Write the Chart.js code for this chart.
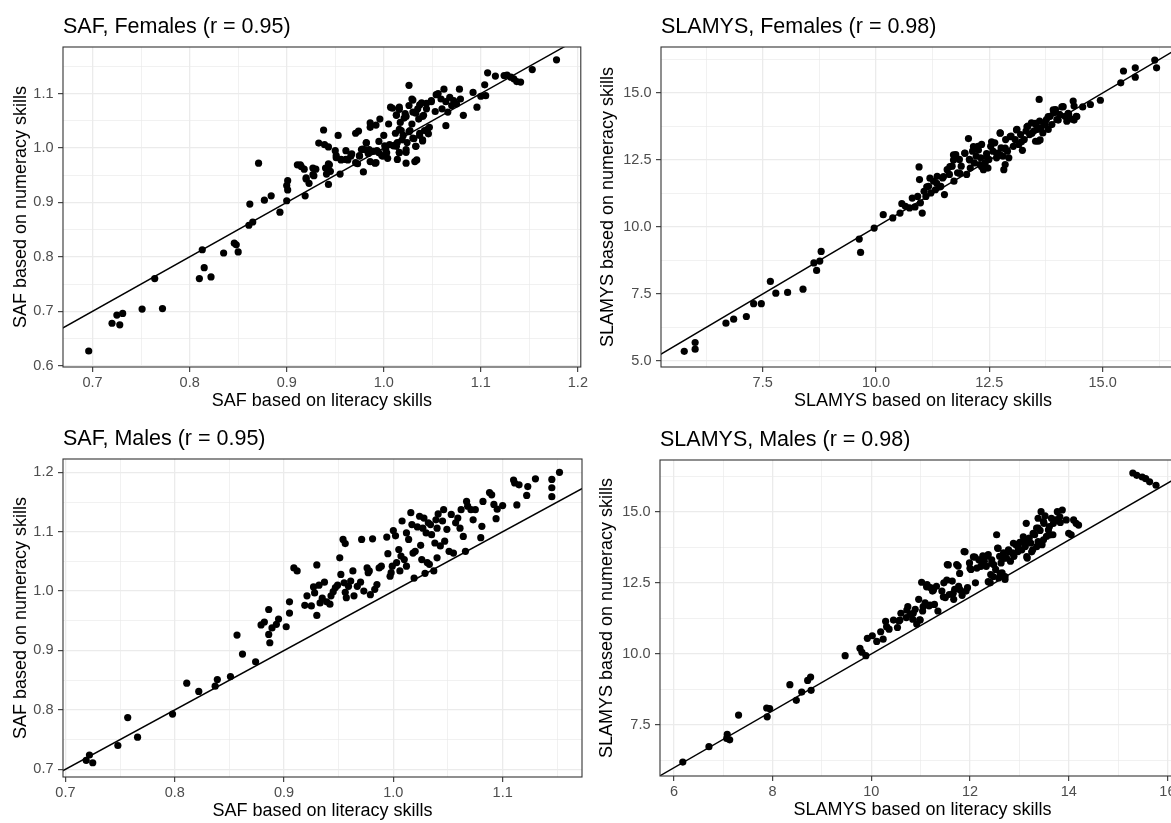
<!DOCTYPE html>
<html>
<head>
<meta charset="utf-8">
<script src="https://cdn.jsdelivr.net/npm/chart.js@4.4.1/dist/chart.umd.min.js"></script>
<style>
  html, body { margin: 0; padding: 0; background: #fff; }
  body { width: 1171px; height: 823px; overflow: hidden; position: relative; }
  canvas { position: absolute; }
</style>
</head>
<body>
<canvas id="safF" width="590" height="415" style="left:0;top:0"></canvas>
<canvas id="slamysF" width="600" height="415" style="left:590px;top:0"></canvas>
<canvas id="safM" width="590" height="413" style="left:0;top:410px"></canvas>
<canvas id="slamysM" width="600" height="413" style="left:590px;top:410px"></canvas>
<script>
// SAF, females: literacy-based (x) vs numeracy-based (y)
const safFemLit = [
  0.696,0.720,0.725,0.728,0.731,0.751,0.772,0.764,0.810,0.813,
  0.815,0.822,0.835,0.846,0.848,0.850,0.862,0.861,0.865,0.871,
  0.877,0.884,0.893,0.900,0.900,0.901,0.901,0.914,0.918,0.920,
  0.919,0.923,0.928,0.930,0.933,0.938,0.939,0.943,0.941,0.943,
  0.943,0.945,0.950,0.951,0.953,0.955,0.956,0.961,0.963,0.967,
  0.971,0.974,0.973,0.975,0.978,0.979,0.982,0.984,0.986,0.986,
  0.986,0.992,0.991,0.993,0.996,0.998,1.000,1.001,1.003,1.004,
  1.005,1.007,1.010,1.012,1.013,1.014,1.016,1.016,1.017,1.018,
  1.020,1.021,1.022,1.023,1.023,1.024,1.026,1.026,1.027,1.029,
  1.029,1.030,1.031,1.032,1.033,1.034,1.035,1.036,1.037,1.039,
  1.040,1.041,1.042,1.044,1.046,1.047,1.049,1.053,1.056,1.059,
  1.060,1.062,1.064,1.064,1.066,1.068,1.070,1.072,1.075,1.078,
  1.079,1.082,1.092,1.096,1.100,1.104,1.105,1.107,1.115,1.124,
  1.127,1.131,1.134,1.137,1.141,1.153,1.178,
  1.009,1.016,1.030,1.037,1.044,1.049,1.054,1.013,1.023,1.033,
  1.040,1.016,1.026,1.037,1.045,1.019,1.030,1.040,1.013,1.023,
  1.033,1.002,0.995,0.999,0.990,0.985,0.992,0.980,0.975,0.971,
  0.966,0.961,0.956,0.951,0.982,0.977,0.989,0.995,1.006,1.014,
  1.016,0.944,0.940,0.927,0.920,0.915,0.911,0.927
];
const safFemNum = [
  0.627,0.678,0.693,0.675,0.696,0.704,0.705,0.760,0.760,0.813,
  0.780,0.763,0.807,0.825,0.822,0.809,0.897,0.858,0.864,0.972,
  0.904,0.912,0.882,0.903,0.931,0.923,0.940,0.969,0.961,0.943,
  0.912,0.935,0.949,0.961,1.009,1.033,1.006,1.002,0.952,0.933,
  0.971,0.957,0.995,0.986,1.023,0.952,0.978,0.995,0.978,0.989,
  1.027,1.031,0.971,0.986,0.998,0.956,1.010,0.990,1.046,1.038,
  0.975,1.042,0.972,0.995,1.053,0.986,1.023,1.004,0.991,0.981,
  1.044,1.075,1.004,1.027,1.060,1.010,1.075,0.992,1.047,1.032,
  1.023,1.055,1.063,0.972,0.992,1.010,1.115,1.078,1.032,1.090,
  1.044,1.066,1.017,0.975,1.003,0.978,1.072,1.053,1.023,1.083,
  1.013,1.060,1.032,1.072,1.026,1.038,1.087,1.067,1.100,1.090,
  1.072,1.108,1.041,1.085,1.066,1.093,1.078,1.087,1.081,1.108,
  1.090,1.060,1.102,1.075,1.095,1.116,1.096,1.138,1.132,1.133,
  1.134,1.130,1.127,1.122,1.121,1.144,1.162,
  1.073,1.071,1.088,1.079,1.082,1.085,1.098,1.061,1.058,1.064,
  1.058,1.034,1.030,1.027,1.034,1.015,1.018,1.015,1.003,0.997,
  1.003,0.997,0.991,0.985,0.994,0.997,0.973,0.997,0.985,0.973,
  0.985,0.979,0.979,0.982,1.009,0.997,0.994,1.012,1.006,0.979,
  0.991,0.969,0.963,0.963,0.945,0.966,0.969,0.951
];

// SLAMYS, females
const slamysFemLit = [
  5.77,6.01,6.01,6.69,6.86,7.14,7.30,7.47,7.67,7.79,
  8.05,8.39,8.63,8.69,8.76,8.79,9.63,9.66,9.96,10.16,
  10.37,10.53,10.57,10.65,10.74,10.80,10.86,10.92,10.95,10.96,
  10.98,11.02,11.06,11.10,11.16,11.21,11.27,11.31,11.35,11.43,
  11.47,11.51,11.57,11.62,11.68,11.72,11.76,11.80,11.84,11.88,
  11.96,12.00,12.04,12.06,12.08,12.13,12.17,12.21,12.25,12.29,
  12.31,12.33,12.37,12.41,12.44,12.47,12.49,12.53,12.58,12.62,
  12.66,12.70,12.74,12.76,12.80,12.82,12.85,12.86,12.90,12.93,
  12.98,13.03,13.07,13.11,13.15,13.19,13.23,13.27,13.31,13.35,
  13.39,13.43,13.48,13.52,13.52,13.56,13.58,13.60,13.61,13.64,
  13.68,13.72,13.76,13.80,13.84,13.88,13.92,13.96,13.99,14.05,
  14.10,14.17,14.21,14.25,14.32,14.35,14.37,14.42,14.56,14.73,
  14.95,15.40,15.46,15.72,15.72,16.15,16.19,
  11.19,11.34,11.12,11.49,11.63,11.71,11.85,11.96,12.07,12.15,
  12.26,12.33,12.44,12.55,12.66,12.74,12.85,12.96,13.10,13.21,
  13.33,13.44,13.51,13.62,13.73,13.80,13.91,14.02,14.13,14.24,
  14.37,14.43,11.71,11.41
];
const slamysFemNum = [
  5.36,5.69,5.44,6.41,6.56,6.66,7.14,7.14,7.97,7.53,
  7.56,7.68,8.66,8.38,8.73,9.09,9.55,9.05,9.96,10.46,
  10.34,10.52,10.87,10.77,10.71,11.08,10.75,11.14,12.24,11.77,
  10.90,10.52,11.33,11.14,11.52,11.27,11.71,11.39,11.89,11.52,
  11.83,11.21,12.14,11.96,12.27,11.71,12.70,12.02,12.52,12.27,
  12.76,11.96,13.30,12.52,12.20,12.83,12.39,12.64,13.01,12.33,
  12.58,13.08,12.14,12.39,12.74,12.20,12.52,13.01,12.83,13.14,
  12.58,12.76,13.51,12.95,12.64,12.14,12.33,13.26,12.83,12.58,
  13.39,13.01,13.26,13.64,13.08,13.45,12.86,13.26,13.58,13.76,
  13.45,13.89,13.58,13.82,13.20,13.64,13.20,14.76,13.95,13.70,
  13.51,13.82,14.01,13.64,14.13,13.82,14.26,14.38,14.01,14.20,
  14.48,14.13,13.95,14.20,14.03,14.70,14.51,14.13,14.48,14.57,
  14.73,15.38,15.82,15.94,15.59,16.23,15.94,
  11.82,11.63,11.50,11.88,12.25,12.69,12.00,12.75,12.50,13.00,
  12.87,12.25,12.62,13.18,12.75,13.50,12.94,13.37,13.62,13.18,
  13.74,13.50,13.87,13.25,13.87,14.12,14.37,13.99,14.49,14.24,
  13.99,14.12,12.50,11.50
];

// SAF, males
const safMaleLit = [
  0.719,0.722,0.725,0.748,0.757,0.766,0.798,0.811,0.822,0.837,
  0.839,0.851,0.857,0.862,0.874,0.879,0.882,0.886,0.886,0.887,
  0.889,0.893,0.895,0.902,0.905,0.905,0.909,0.912,0.919,0.921,
  0.925,0.927,0.928,0.930,0.930,0.932,0.933,0.935,0.937,0.939,
  0.942,0.943,0.945,0.947,0.949,0.951,0.952,0.954,0.956,0.955,
  0.956,0.957,0.959,0.961,0.963,0.964,0.967,0.970,0.971,0.973,
  0.976,0.977,0.978,0.979,0.981,0.983,0.985,0.987,0.989,0.994,
  0.995,0.997,0.998,0.999,1.000,1.002,1.003,1.005,1.006,1.007,
  1.008,1.010,1.012,1.012,1.014,1.016,1.017,1.018,1.019,1.020,
  1.022,1.024,1.025,1.026,1.027,1.028,1.029,1.030,1.031,1.032,
  1.033,1.034,1.035,1.037,1.038,1.039,1.040,1.040,1.041,1.043,
  1.045,1.046,1.047,1.049,1.051,1.053,1.055,1.057,1.059,1.061,
  1.062,1.064,1.066,1.067,1.068,1.071,1.073,1.075,1.081,1.080,
  1.082,1.088,1.090,1.092,1.094,1.095,1.100,1.110,1.111,1.115,
  1.113,1.122,1.123,1.130,1.145,1.145,1.145,1.152
];
const safMaleNum = [
  0.715,0.724,0.711,0.740,0.787,0.754,0.793,0.845,0.831,0.840,
  0.851,0.856,0.926,0.894,0.881,0.943,0.948,0.969,0.927,0.913,
  0.938,0.944,0.953,0.940,0.982,0.963,1.039,1.034,0.976,0.992,
  0.975,1.007,0.997,1.044,0.959,1.010,0.980,0.988,1.015,0.982,
  0.978,0.992,0.999,1.006,1.010,1.056,1.028,1.087,1.080,1.014,
  0.998,0.989,1.008,1.017,1.034,0.992,1.008,1.015,1.087,1.000,
  1.039,1.031,1.034,0.994,1.088,1.003,1.011,1.039,1.042,1.091,
  1.063,1.025,1.031,1.042,1.102,1.093,1.048,1.070,1.034,1.059,
  1.118,1.053,1.098,1.042,1.087,1.132,1.112,1.064,1.022,1.067,
  1.108,1.126,1.077,1.053,1.106,1.123,1.030,1.098,1.048,1.115,
  1.045,1.112,1.095,1.034,1.081,1.120,1.106,1.056,1.130,1.076,
  1.118,1.137,1.084,1.104,1.067,1.129,1.064,1.115,1.123,1.106,
  1.137,1.092,1.067,1.151,1.143,1.137,1.120,1.137,1.109,1.090,
  1.151,1.166,1.162,1.146,1.122,1.138,1.144,1.187,1.182,1.179,
  1.145,1.161,1.176,1.189,1.188,1.174,1.159,1.200
];

// SLAMYS, males
const slamysMaleLit = [
  6.18,6.71,7.08,7.07,7.13,7.31,7.88,7.89,7.94,8.35,
  8.48,8.59,8.71,8.77,8.78,9.47,9.77,9.81,9.89,9.92,
  10.02,10.11,10.19,10.24,10.29,10.36,10.53,10.56,10.60,10.71,
  10.74,10.79,10.84,10.89,10.92,10.96,10.98,11.02,11.04,11.09,
  11.13,11.17,11.20,11.24,11.28,11.32,11.35,11.43,11.47,11.50,
  11.54,11.58,11.64,11.67,11.69,11.73,11.77,11.79,11.84,11.88,
  11.92,11.95,11.99,12.02,12.07,12.11,12.14,12.18,12.22,12.26,
  12.29,12.33,12.37,12.41,12.42,12.44,12.48,12.52,12.54,12.56,
  12.58,12.60,12.63,12.65,12.68,12.71,12.74,12.78,12.82,12.86,
  12.89,12.93,12.97,13.01,13.05,13.08,13.12,13.14,13.16,13.20,
  13.23,13.27,13.31,13.35,13.38,13.38,13.42,13.44,13.46,13.50,
  13.52,13.55,13.61,13.65,13.68,13.74,13.77,13.83,13.87,13.95,
  14.00,14.05,14.10,14.15,14.20,15.30,15.38,15.49,15.56,15.64,
  15.77,
  11.56,11.76,12.00,12.10,12.20,12.34,12.44,12.57,12.68,12.78,
  12.88,12.98,13.08,13.18,13.28,13.38,13.49,13.59,13.69,13.82,
  13.15,13.25,13.35,13.49,13.62,12.47,12.61,12.71,12.37,11.53,
  11.26,11.12,11.66,11.80,11.46,10.85,10.72,10.58,10.99,11.05,
  11.19,10.45,10.31,11.90
];
const slamysMaleNum = [
  6.20,6.74,7.17,7.03,6.98,7.85,8.10,7.79,8.08,8.92,
  8.37,8.66,9.07,9.19,8.72,9.94,10.20,10.06,9.94,10.55,
  10.64,10.44,10.78,10.52,11.15,10.87,10.93,11.16,11.43,11.28,
  11.66,11.40,11.22,11.57,11.05,11.92,11.20,12.52,11.51,11.80,
  12.44,11.69,12.33,12.21,11.74,12.38,11.51,12.21,12.50,11.98,
  13.14,12.09,12.56,11.92,12.27,13.14,12.38,12.83,12.06,13.60,
  12.21,12.33,13.20,12.97,13.41,12.50,13.02,13.31,13.08,13.45,
  13.26,13.08,13.49,12.50,12.79,13.31,13.14,12.97,14.19,13.72,
  12.67,13.43,13.20,12.85,13.55,12.62,13.37,13.66,13.26,13.55,
  13.43,13.84,13.60,13.92,13.66,13.95,13.78,14.59,13.37,14.07,
  13.90,13.66,14.19,14.42,14.77,13.95,14.34,15.00,13.84,14.59,
  14.85,14.13,14.48,14.77,14.19,14.71,15.00,14.62,15.06,14.71,
  14.24,14.19,14.71,14.59,14.53,16.36,16.28,16.22,16.16,16.05,
  15.93,
  13.13,13.09,13.01,13.40,13.30,13.44,13.19,13.71,13.36,13.59,
  13.89,13.71,14.12,13.95,14.24,14.42,14.65,14.36,14.59,14.82,
  13.42,13.59,13.77,14.01,14.18,12.72,12.83,12.72,12.54,12.60,
  12.25,12.36,12.13,12.25,12.01,11.43,11.54,11.19,11.19,11.66,
  11.72,11.19,10.96,13.59
];

// axis labels (major breaks)
const safFemXTicks = ['0.7', '0.8', '0.9', '1.0', '1.1', '1.2'];
const safFemYTicks = ['0.6', '0.7', '0.8', '0.9', '1.0', '1.1'];
const slamysFemXTicks = ['7.5', '10.0', '12.5', '15.0'];
const slamysFemYTicks = ['5.0', '7.5', '10.0', '12.5', '15.0'];
const safMaleXTicks = ['0.7', '0.8', '0.9', '1.0', '1.1'];
const safMaleYTicks = ['0.7', '0.8', '0.9', '1.0', '1.1', '1.2'];
const slamysMaleXTicks = ['6', '8', '10', '12', '14', '16'];
const slamysMaleYTicks = ['7.5', '10.0', '12.5', '15.0'];

const FONT = "'Liberation Sans', Arial, sans-serif";
Chart.defaults.font.family = FONT;

// major breaks plus the minor lines half-way between them
function gridValues(labels, min, max) {
  const major = labels.map(Number);
  const half = (major[1] - major[0]) / 2;
  const vals = new Set();
  major.forEach(v => {
    [v - half, v, v + half].forEach(w => vals.add(+w.toFixed(4)));
  });
  return [...vals].filter(v => v >= min && v <= max).sort((a, b) => a - b);
}

function axis(labels, range, title, size, titleGap, horizontal) {
  const major = labels.map(Number);
  const labelOf = v => {
    const i = major.findIndex(m => Math.abs(m - v) < 1e-6);
    return i < 0 ? '' : labels[i];
  };
  const isMajor = c => c.tick ? labelOf(c.tick.value) !== '' : false;
  const lh = 18 * 1.2;
  return {
    type: 'linear',
    bounds: 'data',
    min: range[0],
    max: range[1],
    afterBuildTicks: s => {
      s.ticks = gridValues(labels, range[0], range[1]).map(v => ({ value: v }));
    },
    afterFit: s => {
      if (horizontal) s.height = size; else s.width = size;
    },
    ticks: {
      autoSkip: false,
      maxRotation: 0,
      minRotation: 0,
      padding: horizontal ? 2 : 4.5,
      color: '#4D4D4D',
      font: { size: 14.5 },
      callback: v => labelOf(v)
    },
    grid: {
      color: '#EBEBEB',
      lineWidth: c => isMajor(c) ? 1.3 : 0.7,
      drawTicks: true,
      tickLength: 5,
      tickWidth: 1.1,
      tickColor: c => isMajor(c) ? '#333333' : 'rgba(0,0,0,0)'
    },
    border: { display: false },
    title: {
      display: true,
      text: title,
      color: '#000',
      font: { size: 18, lineHeight: 1.2 },
      padding: horizontal
        ? { top: 0, bottom: size - titleGap - lh / 2 }
        : { top: size - titleGap - lh / 2, bottom: 0 }
    }
  };
}

// panel frame and left-aligned title
const panelDeco = {
  id: 'panelDeco',
  afterDraw(chart, args, opts) {
    const { ctx, chartArea: a } = chart;
    ctx.save();
    ctx.strokeStyle = '#333333';
    ctx.lineWidth = 1.1;
    ctx.strokeRect(a.left, a.top, a.right - a.left, a.bottom - a.top);
    ctx.fillStyle = '#000';
    ctx.font = '21.5px ' + FONT;
    ctx.textBaseline = 'alphabetic';
    ctx.textAlign = 'left';
    ctx.fillText(opts.text, a.left, a.top - 14);
    ctx.restore();
  }
};

function makePanel(id, p) {
  const lo = Math.min(p.xRange[0], p.yRange[0]);
  const hi = Math.max(p.xRange[1], p.yRange[1]);
  new Chart(document.getElementById(id), {
    type: 'scatter',
    data: {
      datasets: [
        {
          type: 'line',
          data: [{ x: lo, y: lo }, { x: hi, y: hi }],
          borderColor: '#000',
          borderWidth: 1.4,
          pointRadius: 0,
          fill: false
        },
        {
          data: p.lit.map((x, i) => ({ x, y: p.num[i] })),
          backgroundColor: '#000',
          borderWidth: 0,
          pointRadius: 3.6
        }
      ]
    },
    options: {
      responsive: false,
      animation: false,
      events: [],
      devicePixelRatio: 1,
      layout: { padding: { left: 0, top: p.top, right: p.right, bottom: 0 } },
      plugins: {
        legend: { display: false },
        tooltip: { enabled: false },
        panelDeco: { text: p.title }
      },
      scales: {
        x: axis(p.xTicks, p.xRange, p.xTitle, p.xH, 34.5, true),
        y: axis(p.yTicks, p.yRange, p.yTitle, p.yW, p.yGap, false)
      }
    },
    plugins: [panelDeco]
  });
}

makePanel('safF', {
  title: 'SAF, Females (r = 0.95)',
  xTitle: 'SAF based on literacy skills',
  yTitle: 'SAF based on numeracy skills',
  lit: safFemLit, num: safFemNum,
  xTicks: safFemXTicks, yTicks: safFemYTicks,
  xRange: [0.6695, 1.203], yRange: [0.5976, 1.1855],
  top: 47, right: 8, yW: 63, xH: 48, yGap: 41.5
});

makePanel('slamysF', {
  title: 'SLAMYS, Females (r = 0.98)',
  xTitle: 'SLAMYS based on literacy skills',
  yTitle: 'SLAMYS based on numeracy skills',
  lit: slamysFemLit, num: slamysFemNum,
  xTicks: slamysFemXTicks, yTicks: slamysFemYTicks,
  xRange: [5.257, 16.817], yRange: [4.776, 16.716],
  top: 47, right: 5, yW: 71, xH: 48, yGap: 53
});

makePanel('safM', {
  title: 'SAF, Males (r = 0.95)',
  xTitle: 'SAF based on literacy skills',
  yTitle: 'SAF based on numeracy skills',
  lit: safMaleLit, num: safMaleNum,
  xTicks: safMaleXTicks, yTicks: safMaleYTicks,
  xRange: [0.6978, 1.1726], yRange: [0.687, 1.2224],
  top: 49, right: 8, yW: 63, xH: 46, yGap: 41.5
});

makePanel('slamysM', {
  title: 'SLAMYS, Males (r = 0.98)',
  xTitle: 'SLAMYS based on literacy skills',
  yTitle: 'SLAMYS based on numeracy skills',
  lit: slamysMaleLit, num: slamysMaleNum,
  xTicks: slamysMaleXTicks, yTicks: slamysMaleYTicks,
  xRange: [5.718, 16.357], yRange: [5.71, 16.817],
  top: 50, right: 5, yW: 70, xH: 47, yGap: 53
});
</script>
</body>
</html>
